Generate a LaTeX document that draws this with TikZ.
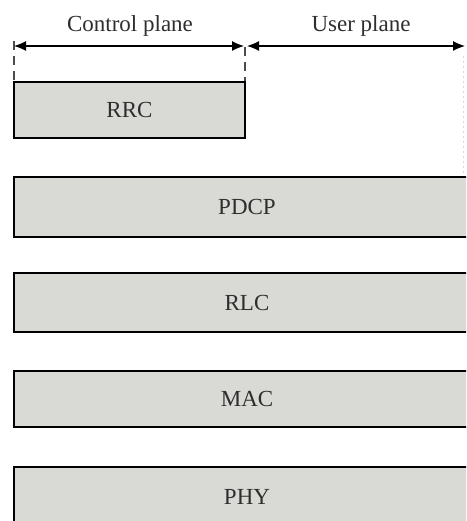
\documentclass[tikz,border=0pt]{standalone}
\usepackage{fontspec}
\setmainfont{Liberation Serif}
\usetikzlibrary{arrows.meta}
\definecolor{layerfill}{HTML}{D9D9D6}
\definecolor{inkgray}{HTML}{2E2E2E}
\begin{document}
\begin{tikzpicture}[x=1pt,y=-1pt,
  layer/.style={draw=black,fill=layerfill,line width=1.3pt,inner sep=0pt,
    text=inkgray,font=\fontsize{23}{27}\selectfont},
  planelabel/.style={text=inkgray,font=\fontsize{23}{27}\selectfont,inner sep=0pt},
  span/.style={line width=1.2pt,{Latex[length=12pt,width=10pt]}-{Latex[length=12pt,width=10pt]}},
  tick/.style={line width=1.1pt,draw=black!70,dash pattern=on 9pt off 6pt},
  faint/.style={line width=0.6pt,draw=black!15,dash pattern=on 2pt off 3pt}]
\useasboundingbox (0,0) rectangle (466,521);
\clip (0,0) rectangle (466,521);

% plane extents
\coordinate (cl) at (14,46);
\coordinate (cr) at (244,46);
\coordinate (ul) at (247,46);
\coordinate (ur) at (465,46);
\coordinate (clb) at (14,82);
\coordinate (crb) at (245,82);
\coordinate (clt) at (14,41);
\coordinate (crt) at (245,47);
\coordinate (urt) at (463,56);
\coordinate (urb) at (463,176);

\draw[tick] (clt) -- (clb);
\draw[tick] (crt) -- (crb);
\draw[faint] (urt) -- (urb);
\draw[span] (cl) -- (cr);
\draw[span] (ul) -- (ur);

\node[planelabel] (cp) at (130,26) {Control plane};
\node[planelabel] (up) at (361,26) {User plane};

% protocol layers
\node[layer,minimum width=231pt,minimum height=56pt] (rrc) at (129.5,110) {RRC};
\node[layer,minimum width=466pt,minimum height=60pt] (pdcp) at (247,207) {PDCP};
\node[layer,minimum width=466pt,minimum height=59pt] (rlc) at (247,302.5) {RLC};
\node[layer,minimum width=466pt,minimum height=56pt] (mac) at (247,399) {MAC};
\node[layer,minimum width=466pt,minimum height=60pt] (phy) at (247,497) {PHY};
\end{tikzpicture}
\end{document}
